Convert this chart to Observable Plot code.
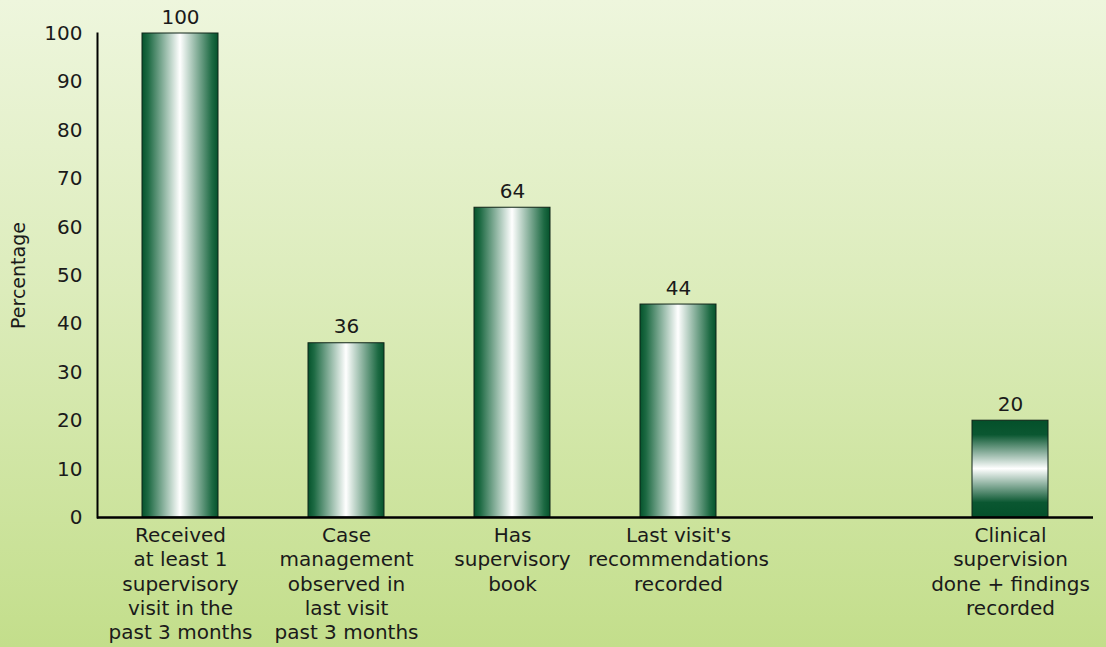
<!DOCTYPE html>
<html>
<head>
<meta charset="utf-8">
<script src="https://cdn.jsdelivr.net/npm/d3@7"></script>
<script src="https://cdn.jsdelivr.net/npm/@observablehq/plot@0.6"></script>
<style>
  html, body { margin: 0; padding: 0; }
  body {
    width: 1106px; height: 647px; overflow: hidden;
    background: linear-gradient(to bottom, #eef6dd 0%, #dcecbb 45%, #c3de8b 100%);
  }
</style>
</head>
<body>
<div id="chart"></div>
<script>
const categories = [
  "Received\nat least 1\nsupervisory\nvisit in the\npast 3 months",
  "Case\nmanagement\nobserved in\nlast visit\npast 3 months",
  "Has\nsupervisory\nbook",
  "Last visit's\nrecommendations\nrecorded",
  "Clinical\nsupervision\ndone + findings\nrecorded"
];
const values = [100, 36, 64, 44, 20];
const spacer = " ";
const xDomain = [...categories.slice(0, 4), spacer, categories[4]];
const yTicks = [0, 10, 20, 30, 40, 50, 60, 70, 80, 90, 100];
const yLabel = "Percentage";

const data = categories.map((c, i) => ({category: c, value: values[i]}));

const defs = () => {
  const g = d3.create("svg:defs");
  const h = g.append("linearGradient").attr("id", "gh").attr("x1", 0).attr("x2", 1).attr("y1", 0).attr("y2", 0);
  [[0, "#05532c"], [0.08, "#1d6a43"], [0.5, "#ffffff"], [0.92, "#1d6a43"], [1, "#05532c"]]
    .forEach(([o, c]) => h.append("stop").attr("offset", o).attr("stop-color", c));
  const v = g.append("linearGradient").attr("id", "gv").attr("x1", 0).attr("x2", 0).attr("y1", 0).attr("y2", 1);
  [[0, "#04502a"], [0.15, "#0a5731"], [0.5, "#ffffff"], [0.85, "#0a5731"], [1, "#04502a"]]
    .forEach(([o, c]) => v.append("stop").attr("offset", o).attr("stop-color", c));
  return g.node();
};

const chart = Plot.plot({
  width: 1106,
  height: 647,
  marginLeft: 97,
  marginRight: 13,
  marginTop: 33,
  marginBottom: 130,
  style: {background: "transparent", fontFamily: "DejaVu Sans", fontSize: "20px", color: "#1a1a1a"},
  x: {domain: xDomain, paddingInner: 0.542, paddingOuter: 0.271, label: null},
  y: {domain: [0, 100], label: null},
  marks: [
    defs,
    Plot.barY(data.slice(0, 4), {x: "category", y: "value", fill: "url(#gh)", stroke: "#0f2418", strokeWidth: 1}),
    Plot.barY(data.slice(4), {x: "category", y: "value", fill: "url(#gv)", stroke: "#0f2418", strokeWidth: 1}),
    Plot.text(data, {x: "category", y: "value", text: d => String(d.value), lineAnchor: "bottom", dy: -10, fill: "#1a1a1a", fontSize: 20}),
    Plot.axisY({ticks: yTicks, tickSize: 0, tickPadding: 15, label: null, fontSize: 20}),
    Plot.axisY({ticks: [], tickSize: 0, label: yLabel, labelArrow: "none", labelAnchor: "center", labelOffset: 86, fontSize: 19}),
    Plot.axisX({tickSize: 0, tickPadding: 7, lineHeight: 1.22, fontSize: 20, label: null}),
    Plot.frame({anchor: "left", stroke: "#000", strokeWidth: 2}),
    Plot.ruleY([0], {stroke: "#000", strokeWidth: 2.5})
  ]
});
document.getElementById("chart").appendChild(chart);
</script>
</body>
</html>
